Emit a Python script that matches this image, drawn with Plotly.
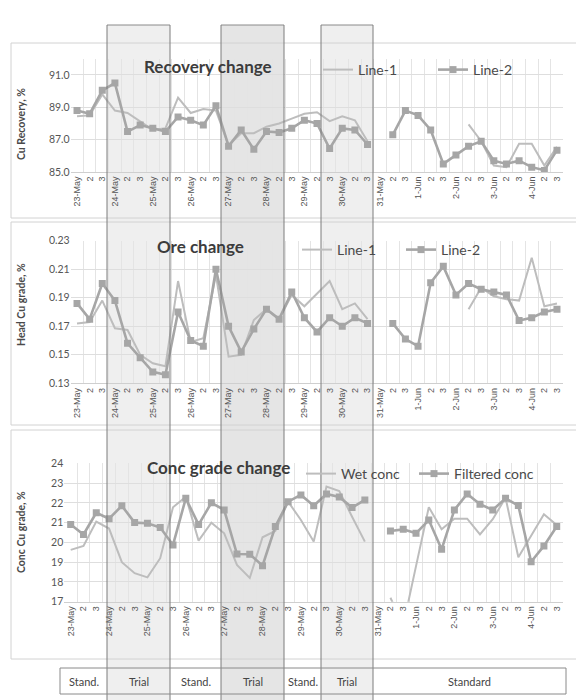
import plotly.graph_objects as go

# ---------------- data ----------------
days = ["23-May", "24-May", "25-May", "26-May", "27-May", "28-May", "29-May",
        "30-May", "31-May", "1-Jun", "2-Jun", "3-Jun", "4-Jun"]
tick_labels = []
for d in days:
    tick_labels += [d, "2", "3"]
x_idx = list(range(len(tick_labels)))

N = None
recovery_line1 = [88.45, 88.5, 89.8, 88.8, 88.65, 88.1, 87.6, 87.7, 89.6, 88.65, 88.9, 88.8,
                  86.65, 87.4, 87.4, 87.8, 88.0, 88.3, 88.6, 88.7, 88.15, 88.45, 88.2, 86.9,
                  N, N, N, N, N, N, N, 87.95, 86.9, 85.4, 85.3, 86.75, 86.75, 85.4, 86.55]
recovery_line2 = [88.8, 88.6, 90.05, 90.5, 87.5, 87.9, 87.7, 87.5, 88.4, 88.2, 87.9, 89.1,
                  86.6, 87.6, 86.4, 87.5, 87.45, 87.7, 88.2, 88.0, 86.45, 87.7, 87.6, 86.7,
                  N, 87.3, 88.8, 88.5, 87.6, 85.5, 86.05, 86.6, 86.9, 85.7, 85.5, 85.7, 85.3, 85.1, 86.35]

ore_line1 = [0.172, 0.173, 0.188, 0.1686, 0.1674, 0.150, 0.144, 0.142, 0.2017, 0.159, 0.1616, 0.206,
             0.1487, 0.150, 0.1744, 0.182, 0.175, 0.192, 0.184, 0.193, 0.2017, 0.182, 0.186, 0.175,
             N, N, N, N, N, N, N, 0.182, 0.197, 0.191, 0.189, 0.188, 0.218, 0.184, 0.186]
ore_line2 = [0.186, 0.175, 0.200, 0.188, 0.158, 0.148, 0.138, 0.136, 0.180, 0.160, 0.156, 0.210,
             0.170, 0.152, 0.168, 0.182, 0.175, 0.194, 0.176, 0.166, 0.176, 0.170, 0.176, 0.172,
             N, 0.172, 0.161, 0.156, 0.2005, 0.212, 0.192, 0.200, 0.196, 0.194, 0.192, 0.174, 0.176, 0.180, 0.182]

conc_wet = [19.62, 19.82, 21.05, 20.7, 19.0, 18.44, 18.23, 19.2, 21.78, 22.31, 20.09, 21.0,
            20.46, 18.86, 18.2, 20.26, 20.58, 22.06, 21.13, 20.04, 22.82, 22.6, 21.3, 20.04,
            N, 17.2, 15.8, 18.8, 21.78, 20.66, 21.2, 21.2, 20.4, 21.17, 22.26, 19.25, 20.3, 21.42, 20.88]
conc_filtered = [20.9, 20.4, 21.5, 21.2, 21.85, 21.0, 20.97, 20.75, 19.87, 22.23, 20.9, 22.0,
                 21.64, 19.41, 19.4, 18.82, 20.8, 22.06, 22.4, 21.85, 22.45, 22.3, 21.76, 22.15,
                 N, 20.58, 20.66, 20.46, 21.13, 19.65, 21.64, 22.45, 21.93, 21.64, 22.23, 21.86, 19.02, 19.82, 20.8]

period_labels = ["Stand.", "Trial", "Stand.", "Trial", "Stand.", "Trial", "Standard"]

# ---------------- layout helpers (page pixel -> paper) ----------------
OFF = 8                      # the page body margin
W, H = 584 - OFF, 700 - OFF  # figure size that fills the visible window
def px(x):
    return (x - OFF) / W
def py(y):
    return 1 - (y - OFF) / H

period_edges = [60, 107, 170, 221, 284, 321, 373, 566]   # page pixel positions of period bounds

L1C = "#bdbdbd"
L2C = "#a6a6a6"
TXT = "#555555"

fig = go.Figure()

def add_pair(name1, y1, name2, y2, xa, ya, legend_a, legend_b):
    fig.add_trace(go.Scatter(x=x_idx, y=y1, name=name1, mode="lines",
                             line=dict(color=L1C, width=2), xaxis=xa, yaxis=ya,
                             connectgaps=False, legend=legend_a))
    fig.add_trace(go.Scatter(x=x_idx, y=y2, name=name2, mode="lines+markers",
                             line=dict(color=L2C, width=2.6),
                             marker=dict(symbol="square", size=7, color=L2C),
                             xaxis=xa, yaxis=ya, connectgaps=False, legend=legend_b))

add_pair("Line-1", recovery_line1, "Line-2", recovery_line2, "x", "y", "legend", "legend")
add_pair("Line-1", ore_line1, "Line-2", ore_line2, "x2", "y2", "legend2", "legend2")
add_pair("Wet conc", conc_wet, "Filtered conc", conc_filtered, "x3", "y3", "legend3", "legend4")

xcommon = dict(range=[-0.5, len(x_idx) - 0.5], tickmode="array", tickvals=x_idx,
               ticktext=tick_labels, tickangle=-90, showgrid=False, zeroline=False,
               automargin=False,
               tickfont=dict(family="Liberation Sans", size=9, color=TXT),
               showline=True, linecolor="#cfcfcf", ticks="", ticklen=0,
               minor=dict(tickmode="linear", tick0=-0.5, dtick=1, showgrid=True,
                          gridcolor="#e4e4e4", gridwidth=1))
ycommon = dict(showgrid=True, gridcolor="#dedede", zeroline=False, showline=False,
               automargin=False,
               tickfont=dict(family="Lato", size=10.5, color=TXT), ticks="")

fig.update_layout(
    width=W, height=H, autosize=False,
    margin=dict(l=0, r=0, t=0, b=0, pad=0),
    paper_bgcolor="white", plot_bgcolor="rgba(0,0,0,0)",
    xaxis=dict(domain=[px(70.7), px(563.3)], anchor="y", **xcommon),
    xaxis2=dict(domain=[px(70.7), px(563.3)], anchor="y2", **xcommon),
    xaxis3=dict(domain=[px(64.3), px(563.1)], anchor="y3", **xcommon),
    yaxis=dict(domain=[py(172), py(58.8)], range=[85, 92], tickvals=[85, 87, 89, 91],
               tickformat=".1f", anchor="x", **ycommon),
    yaxis2=dict(domain=[py(383.3), py(240.7)], range=[0.13, 0.23],
                tickvals=[0.13, 0.15, 0.17, 0.19, 0.21, 0.23], tickformat=".2f",
                anchor="x2", **ycommon),
    yaxis3=dict(domain=[py(601.7), py(463.3)], range=[17, 24], dtick=1,
                anchor="x3", **ycommon),
    showlegend=True,
)

legfont = dict(family="Lato", size=14, color="#4a4a4a")
fig.update_layout(
    legend=dict(orientation="h", x=px(318), y=py(70), xanchor="left", yanchor="middle",
                bgcolor="rgba(0,0,0,0)", font=legfont, entrywidth=70, itemwidth=30),
    legend2=dict(orientation="h", x=px(297), y=py(250), xanchor="left", yanchor="middle",
                 bgcolor="rgba(0,0,0,0)", font=legfont, entrywidth=59, itemwidth=30),
    legend3=dict(orientation="h", x=px(301), y=py(474), xanchor="left", yanchor="middle",
                 bgcolor="rgba(0,0,0,0)", font=legfont, itemwidth=30),
    legend4=dict(orientation="h", x=px(414), y=py(474), xanchor="left", yanchor="middle",
                 bgcolor="rgba(0,0,0,0)", font=legfont, itemwidth=30),
)

shapes = []
trial_spans = [(107, 170, "#efefef"), (221, 284, "#e5e5e5"), (321, 373, "#efefef")]
for x0, x1, c in trial_spans:
    shapes.append(dict(type="rect", xref="paper", yref="paper", x0=px(x0), x1=px(x1),
                       y0=0, y1=py(25), fillcolor=c, line=dict(width=0), layer="below"))
for (x0, y0, x1, y1) in [(11, 43, 583, 218), (11, 222, 583, 425), (11, 430, 583, 659)]:
    shapes.append(dict(type="rect", xref="paper", yref="paper", x0=px(x0), x1=px(x1),
                       y0=py(y1), y1=py(y0), line=dict(color="#d2d2d2", width=1),
                       fillcolor="rgba(0,0,0,0)", layer="below"))
for x0, x1, c in trial_spans:
    shapes.append(dict(type="line", xref="paper", yref="paper", x0=px(x0), x1=px(x1),
                       y0=py(25), y1=py(25), line=dict(color="#8a8a8a", width=1)))
for xe in period_edges[1:-1]:
    shapes.append(dict(type="line", xref="paper", yref="paper", x0=px(xe), x1=px(xe),
                       y0=0, y1=py(25), line=dict(color="#7d7d7d", width=1)))
shapes.append(dict(type="rect", xref="paper", yref="paper", x0=px(60), x1=px(566),
                   y0=py(694), y1=py(668), line=dict(color="#8a8a8a", width=1)))
fig.update_layout(shapes=shapes)

ann = []
titles = [("Recovery change", 208, 67), ("Ore change", 200, 246), ("Conc grade change", 218, 468)]
for t, x, y in titles:
    ann.append(dict(text=t, x=px(x), y=py(y), xref="paper", yref="paper", showarrow=False,
                    font=dict(family="Lato", size=17, color="#3c3c3c", weight="bold"),
                    xanchor="center", yanchor="middle"))
ytitles = [("Cu Recovery, %", 21, 124), ("Head Cu grade, %", 21, 305), ("Conc Cu grade, %", 21, 532)]
for t, x, y in ytitles:
    ann.append(dict(text=t, x=px(x), y=py(y), xref="paper", yref="paper", showarrow=False,
                    textangle=-90, font=dict(family="Lato", size=10.5, color="#4a4a4a", weight="bold"),
                    xanchor="center", yanchor="middle"))
for i, lab in enumerate(period_labels):
    xc = (period_edges[i] + period_edges[i + 1]) / 2
    ann.append(dict(text=lab, x=px(xc), y=py(681), xref="paper", yref="paper", showarrow=False,
                    font=dict(family="Lato", size=11, color="#444444"),
                    xanchor="center", yanchor="middle"))
fig.update_layout(annotations=ann)

fig.write_html("out.html")
